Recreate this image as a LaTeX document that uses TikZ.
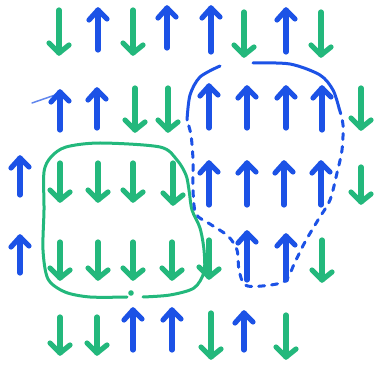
\documentclass[tikz,border=0pt]{standalone}
\definecolor{penblue}{RGB}{28,82,230}
\definecolor{pengreen}{RGB}{35,184,124}
\begin{document}
\begin{tikzpicture}[x=1pt,y=-1pt,
  blueink/.style={draw=penblue, line width=5.2pt, line cap=round, line join=round},
  greenink/.style={draw=pengreen, line width=5.2pt, line cap=round, line join=round},
  blueloop/.style={draw=penblue, line width=3pt, line cap=round, line join=round},
  greenloop/.style={draw=pengreen, line width=3pt, line cap=round, line join=round}]
\useasboundingbox (0,0) rectangle (378,366);

% spin-up arrows: x / top / bottom
\foreach \x/\a/\b in {98/10/50, 167/8/48, 211/8/52, 286/10/52,
    60/92/130, 97/90/128, 209/86/128, 247/88/128, 286/88/128, 322/88/130,
    20/158/195, 209/163/205, 247/163/205, 284/163/205, 321/163/205,
    20/237/273, 247/233/280, 286/236/280,
    133/310/350, 172/310/350, 244/313/350}{
  \draw[blueink] (\x,\b) -- (\x,\a);
  \draw[blueink] (\x-9,\a+10) -- (\x,\a) -- (\x+9,\a+9);
}

% spin-down arrows: x / top / bottom
\foreach \x/\a/\b in {59/10/53, 133/10/53, 244/12/55, 321/12/55,
    135/88/130, 168/88/130, 361/88/128,
    60/163/200, 98/163/200, 133/163/200, 173/163/203, 361/167/202,
    60/242/278, 98/242/278, 133/242/278, 172/242/278, 209/240/277, 322/240/280,
    60/317/353, 97/317/353, 211/313/357, 286/315/357}{
  \draw[greenink] (\x,\a) -- (\x,\b);
  \draw[greenink] (\x-10,\b-10) -- (\x,\b) -- (\x+10,\b-8);
}

% stray pen stroke beside the first arrow of the second row
\draw[blueloop, line width=1.5pt, opacity=0.7] (32,103) -- (58,94);

% green domain boundary
\draw[greenloop] plot[smooth] coordinates {(143,297) (170,295) (194,288) (204,272) (204,250)
  (200,228) (192,210) (189,190) (186,175) (177,160) (160,147) (100,143) (66,147) (51,157) (44,172)
  (44,210) (43,250) (48,279) (65,292) (90,297) (127,297)};
\fill[pengreen] (131,293) circle (2.8);

% blue domain boundary: solid strokes on top, dashed elsewhere
\draw[blueloop] plot[smooth] coordinates {(253,63) (290,64) (320,75) (333,90) (339,108)};
\draw[blueloop] plot[smooth] coordinates {(187,120) (190,95) (200,77) (220,66)};
\draw[blueloop, dash pattern=on 6pt off 7pt] plot[smooth] coordinates {(339,108) (343,125)
  (342,150) (337,173) (330,200) (318,220) (305,242) (295,262) (285,281) (262,286) (245,285)
  (239,270) (237,250) (228,236) (210,224) (196,214) (193,190) (193,160) (191,135) (187,120)};
\end{tikzpicture}
\end{document}
